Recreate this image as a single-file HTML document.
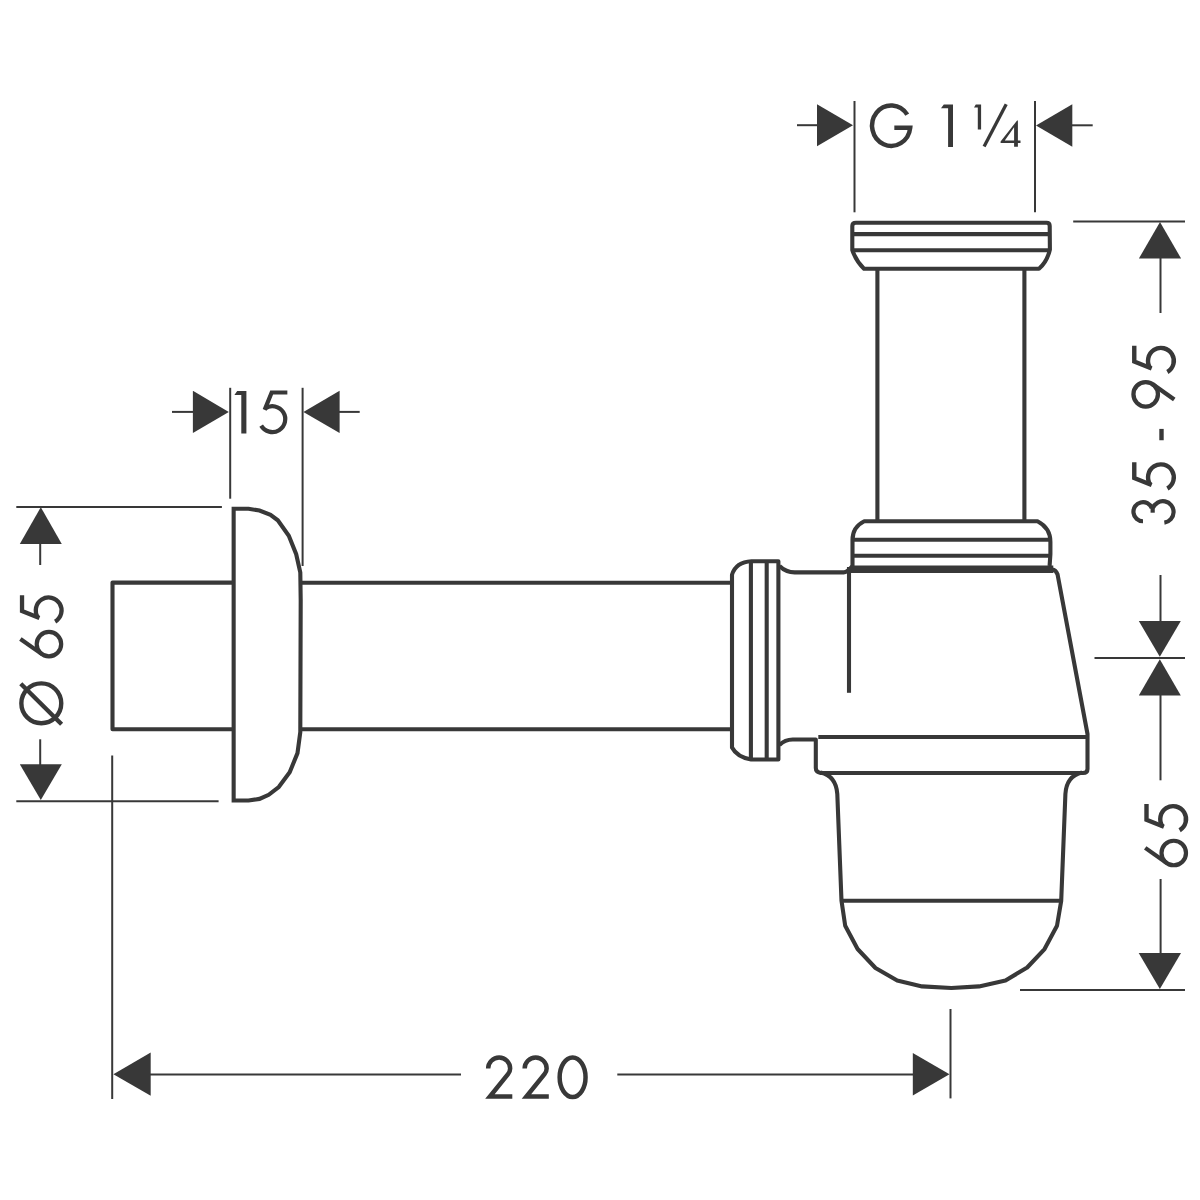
<!DOCTYPE html>
<html><head><meta charset="utf-8"><style>
html,body{margin:0;padding:0;background:#fff;width:1200px;height:1200px;overflow:hidden;font-family:"Liberation Sans",sans-serif;}
svg{display:block}
</style></head><body>
<svg width="1200" height="1200" viewBox="0 0 1200 1200">
<rect width="1200" height="1200" fill="#fff"/>
<g fill="none" stroke="#383838" stroke-linecap="butt" stroke-linejoin="round">
<line x1="797" y1="125.2" x2="818" y2="125.2" stroke-width="2.0"/>
<polygon points="853,125.3 817,104.3 817,146.3" fill="#383838" stroke="none"/>
<line x1="854.5" y1="101" x2="854.5" y2="212.3" stroke-width="2.0"/>
<line x1="1035" y1="101" x2="1035" y2="212.3" stroke-width="2.0"/>
<polygon points="1036,125.5 1072.3,104.3 1072.3,146.7" fill="#383838" stroke="none"/>
<line x1="1071" y1="125.3" x2="1092.7" y2="125.3" stroke-width="2.0"/>
<path d="M907.24,114.62 A19.12,20.25 0 1 0 910.20,127.87 L894.33,127.87" stroke-width="4.5" stroke-linejoin="miter"/>
<polygon points="943.8,104.4 953,104.4 953,147.1 948.1,147.1 948.1,108.2 941,108.2" fill="#383838" stroke="none"/>
<polygon points="975.8,104.4 981.1,104.4 981.1,129.5 977.8,129.5 977.8,107.4 974,107.4" fill="#383838" stroke="none"/>
<line x1="1006.2" y1="104.3" x2="984.1" y2="146.5" stroke-width="3.3"/>
<path d="M1017.1,120.5 L1017.9,120.5 L1017.9,140.4 L1020.5,140.4 L1020.5,143 L1017.9,143 L1017.9,146.8 L1014.1,146.8 L1014.1,143 L1000.6,143 L1000.6,141.6 Z M1014.1,127.3 L1014.1,140.4 L1004.8,140.4 Z" fill="#383838" fill-rule="evenodd" stroke="none"/>
<path d="M856,222.8 L1046.5,222.8 Q1049.7,222.8 1049.7,226 L1049.9,249.5 Q1047,262 1039,268.7 L864,268.7 Q856,261 852.3,250 L852.3,226 Q852.3,222.8 856,222.8 Z" stroke-width="4.1" />
<line x1="852.3" y1="234.1" x2="1049.7" y2="234.1" stroke-width="4.1"/>
<line x1="852.3" y1="250.3" x2="1049.9" y2="250.3" stroke-width="4.1"/>
<line x1="877.4" y1="268.7" x2="877.4" y2="521.2" stroke-width="4.1"/>
<line x1="1024.4" y1="268.7" x2="1024.4" y2="521.2" stroke-width="4.1"/>
<path d="M852.5,566 L852.5,540 Q852.5,527 864.2,521.25 L1037.5,521.25 Q1050.4,528 1050.4,541.7 L1050.4,554 L1049.6,566" stroke-width="4.1" />
<line x1="852.5" y1="539.8" x2="1050.4" y2="539.8" stroke-width="4.1"/>
<line x1="852.5" y1="555.7" x2="1050.4" y2="555.7" stroke-width="4.1"/>
<line x1="850" y1="569.2" x2="1053.3" y2="569.2" stroke-width="7.5"/>
<path d="M1052,569.5 Q1056,570 1057.5,574.2 L1087.5,734 L1087.5,769 Q1087.5,773 1083,773 L820.7,773 Q815.8,772 815.8,768 L815.8,739.5 L792.7,739.5 Q785,739.5 779.4,745" stroke-width="4.1" />
<line x1="818.3" y1="737" x2="1087.5" y2="737" stroke-width="4.1"/>
<line x1="849" y1="567" x2="849" y2="692.8" stroke-width="4.1"/>
<path d="M779.5,566 Q786,572.4 794.7,572.4 L843.7,572.4 Q847,572.4 852,566.6" stroke-width="4.1" />
<path d="M778.4,561.3 L751.5,561.3 Q736,562 732,574.75 L732,747.5 Q737,757 751.1,759.5 L778.4,759.5 Z" stroke-width="4.1" />
<line x1="750.9" y1="561.3" x2="750.9" y2="759.5" stroke-width="4.1"/>
<line x1="766.7" y1="561.3" x2="766.7" y2="759.5" stroke-width="4.1"/>
<line x1="300.7" y1="582.7" x2="732" y2="582.7" stroke-width="4.1"/>
<line x1="300.7" y1="729.3" x2="732" y2="729.3" stroke-width="4.1"/>
<path d="M233.65,508.8 L248.5,508.8 L259.5,510.6 L270.5,514.75 L277.8,520.25 L288.8,535.8 L296.2,554.2 L300.3,572.5 L300.7,600 L300.3,732 L297.5,753.1 L289.7,772.3 L278.75,787 L268.7,794.8 L259.5,798.9 L248.5,800.55 L233.65,800.55 Z" stroke-width="4.1" stroke-linejoin="miter"/>
<path d="M233,582.6 L112.5,582.6 L112.5,729.3 L233,729.3" stroke-width="4.1" />
<path d="M820.7,772.5 Q836,776 837.3,794 L841.5,900.8 L845.2,925.75 L857.6,949 L875.5,968 L897.2,980.5 L922.1,986.4 L951.3,988.05 L979,986.4 L1005.5,980.5 L1027.2,967.5 L1044.55,949.05 L1057,925.75 L1061.2,900.8 L1065.4,794 Q1066.5,776 1082,772.5" stroke-width="4.1" />
<line x1="841.5" y1="900.8" x2="1061.2" y2="900.8" stroke-width="4.1"/>
<line x1="230.2" y1="387.8" x2="230.2" y2="498.7" stroke-width="2.0"/>
<line x1="302.6" y1="387.8" x2="302.6" y2="566" stroke-width="2.0"/>
<line x1="172" y1="411.9" x2="194" y2="411.9" stroke-width="2.0"/>
<polygon points="228.8,411.9 192.9,390.7 192.9,433.09999999999997" fill="#383838" stroke="none"/>
<polygon points="303.4,411.9 339.59999999999997,390.7 339.59999999999997,433.09999999999997" fill="#383838" stroke="none"/>
<line x1="338" y1="411.9" x2="359.7" y2="411.9" stroke-width="2.0"/>
<g transform="translate(234.4,390.9)"><polygon points="2.8,0 12.0,0 12.0,42.7 6.9,42.7 6.9,4.1 0,4.1" fill="#383838" stroke="none"/></g>
<g transform="translate(258.75,390.3)"><path d="M28.6,2.2 L12.9,2.2 L5.9,19.6" stroke-width="4.2" stroke-linejoin="miter"/><path d="M6.39,18.16 A12.9,12.9 0 1 1 2.43,35.3" stroke-width="4.2"/></g>
<line x1="16.3" y1="506.9" x2="221.9" y2="506.9" stroke-width="2.0"/>
<line x1="16.3" y1="801.2" x2="218.6" y2="801.2" stroke-width="2.0"/>
<polygon points="40.8,507.2 19.799999999999997,544.0 61.8,544.0" fill="#383838" stroke="none"/>
<line x1="40.2" y1="543" x2="40.2" y2="565" stroke-width="2.0"/>
<line x1="40.2" y1="739.3" x2="40.2" y2="765" stroke-width="2.0"/>
<polygon points="40.8,800 19.799999999999997,764.3 61.8,764.3" fill="#383838" stroke="none"/>
<g transform="translate(19.13,725.7) rotate(-90)"><circle cx="22.4" cy="22.17" r="19.95" stroke-width="4.4"/><path d="M1.4,42.47 L42.0,1.64" stroke-width="4.4"/></g>
<g transform="translate(19.1,658.9) rotate(-90)"><circle cx="14.8" cy="29.85" r="12.25" stroke-width="4.2"/><path d="M19.9,1.3 L4.78,22.80" stroke-width="4.2"/></g>
<g transform="translate(19.83,623.97) rotate(-90)"><path d="M28.6,2.2 L12.9,2.2 L5.9,19.6" stroke-width="4.3" stroke-linejoin="miter"/><path d="M6.39,18.16 A12.9,12.9 0 1 1 2.43,35.3" stroke-width="4.3"/></g>
<line x1="112.2" y1="755.6" x2="112.2" y2="1099" stroke-width="2.0"/>
<line x1="950.5" y1="1009" x2="950.5" y2="1098.4" stroke-width="2.0"/>
<polygon points="113.4,1074.2 150.7,1052.6000000000001 150.7,1095.8" fill="#383838" stroke="none"/>
<line x1="149" y1="1074.4" x2="461" y2="1074.4" stroke-width="2.0"/>
<line x1="617.3" y1="1074.4" x2="914" y2="1074.4" stroke-width="2.0"/>
<polygon points="949.5,1074.2 912.8,1052.9 912.8,1095.5" fill="#383838" stroke="none"/>
<g transform="translate(485.4,1055.4)"><path d="M2.75,13.1 A11,11 0 0 1 24.75,13.1 C24.75,15.5 24,17 22.6,18.8 L4.5,41.15 L26.9,41.15" stroke-width="4.5" stroke-linejoin="miter"/></g>
<g transform="translate(521.9,1055.4)"><path d="M2.75,13.1 A11,11 0 0 1 24.75,13.1 C24.75,15.5 24,17 22.6,18.8 L4.5,41.15 L26.9,41.15" stroke-width="4.5" stroke-linejoin="miter"/></g>
<g transform="translate(557.3,1055.4)"><ellipse cx="15.3" cy="21.9" rx="12.95" ry="19.8" stroke-width="4.5"/></g>
<line x1="1073.2" y1="221.5" x2="1185" y2="221.5" stroke-width="2.0"/>
<polygon points="1160,222 1138.9,258.5 1181.1,258.5" fill="#383838" stroke="none"/>
<line x1="1160.5" y1="257" x2="1160.5" y2="313" stroke-width="2.0"/>
<line x1="1160.5" y1="575" x2="1160.5" y2="622" stroke-width="2.0"/>
<polygon points="1159.8,656.7 1138.8,621.1 1180.8,621.1" fill="#383838" stroke="none"/>
<line x1="1094.5" y1="657.9" x2="1185" y2="657.9" stroke-width="2.0"/>
<polygon points="1159.8,659.3 1138.8,695.5 1180.8,695.5" fill="#383838" stroke="none"/>
<line x1="1160.5" y1="694" x2="1160.5" y2="780.3" stroke-width="2.0"/>
<line x1="1160.6" y1="879" x2="1160.6" y2="954" stroke-width="2.0"/>
<polygon points="1159.85,989 1138.6999999999998,953 1181.0,953" fill="#383838" stroke="none"/>
<line x1="1020" y1="990" x2="1185" y2="990" stroke-width="2.0"/>
<g transform="translate(1132.07,374.43) rotate(-90)"><path d="M28.6,2.2 L12.9,2.2 L5.9,19.6" stroke-width="4.4" stroke-linejoin="miter"/><path d="M6.39,18.16 A12.9,12.9 0 1 1 2.43,35.3" stroke-width="4.4"/></g>
<g transform="translate(1131.4,409.1) rotate(-90)"><g transform="rotate(180 14.8 22.075)"><circle cx="14.8" cy="29.85" r="12.25" stroke-width="4.3"/><path d="M19.9,1.3 L4.78,22.80" stroke-width="4.3"/></g></g>
<line x1="1161.5" y1="428.9" x2="1161.5" y2="440.25" stroke-width="4.4"/>
<g transform="translate(1132.07,490.9) rotate(-90)"><path d="M28.6,2.2 L12.9,2.2 L5.9,19.6" stroke-width="4.4" stroke-linejoin="miter"/><path d="M6.39,18.16 A12.9,12.9 0 1 1 2.43,35.3" stroke-width="4.4"/></g>
<g transform="translate(1131.37,524.8) rotate(-90)"><path d="M3.55,11.63 A9.55,9.55 0 1 1 16.55,20.53" stroke-width="4.2"/><path d="M16.70,21.44 A10.75,10.75 0 1 1 2.20,32.98" stroke-width="4.2"/><path d="M16.9,21.3 L12.1,21.3" stroke-width="4.2"/></g>
<g transform="translate(1143.9,867.8) rotate(-90)"><circle cx="14.8" cy="29.85" r="12.25" stroke-width="4.2"/><path d="M19.9,1.3 L4.78,22.80" stroke-width="4.2"/></g>
<g transform="translate(1144.3,832.67) rotate(-90)"><path d="M28.6,2.2 L12.9,2.2 L5.9,19.6" stroke-width="4.4" stroke-linejoin="miter"/><path d="M6.39,18.16 A12.9,12.9 0 1 1 2.43,35.3" stroke-width="4.4"/></g>
</g>
</svg>
</body></html>
